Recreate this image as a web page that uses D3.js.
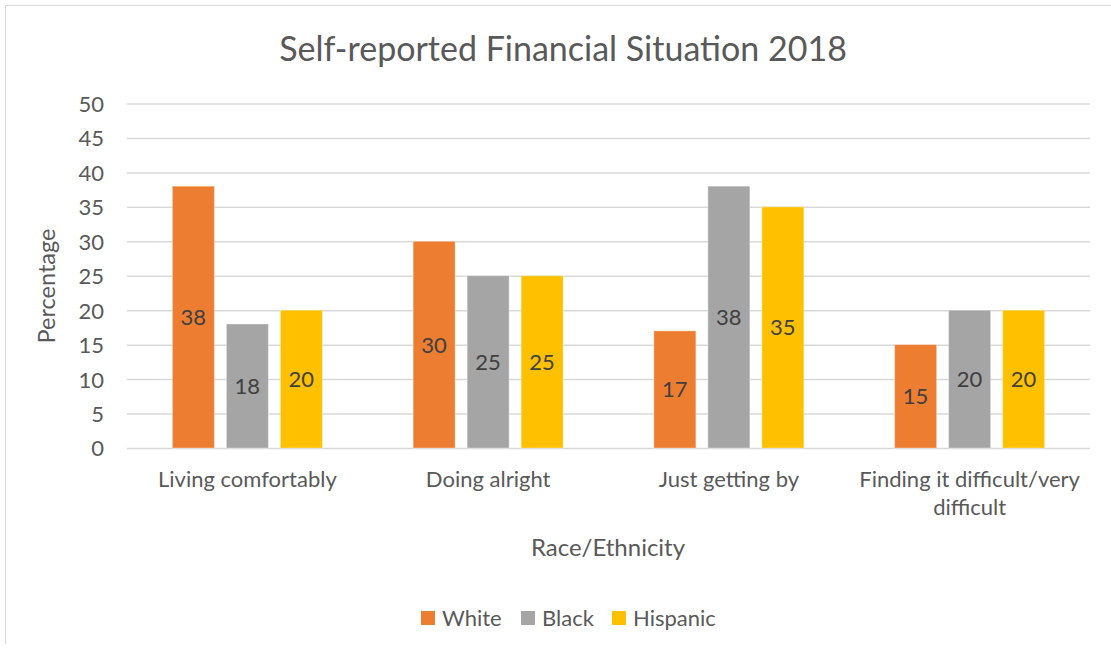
<!DOCTYPE html>
<html>
<head>
<meta charset="utf-8">
<script src="https://cdn.jsdelivr.net/npm/d3@7"></script>
<style>
  html, body { margin: 0; padding: 0; background: #fff; }
  svg { display: block; font-family: Lato, "Open Sans", sans-serif; }
</style>
</head>
<body>
<svg id="chart" width="1111" height="653"></svg>
<script>
// Survey categories and the percentage for each group
const categories = ["Living comfortably", "Doing alright", "Just getting by", "Finding it difficult/very difficult"];
const seriesNames = ["White", "Black", "Hispanic"];
const white = [38, 30, 17, 15];
const black = [18, 25, 38, 20];
const hispanic = [20, 25, 35, 20];
const yTicks = [0, 5, 10, 15, 20, 25, 30, 35, 40, 45, 50];
const colors = ["#ED7D31", "#A5A5A5", "#FFC000"];

const seriesValues = [white, black, hispanic];
const rows = categories.map((c, i) => ({
  category: c,
  values: seriesNames.map((s, j) => ({ series: s, value: seriesValues[j][i] }))
}));

const svg = d3.select("#chart");
const W = 1111, H = 653;
const textColor = "#595959";
const fs = 22;

// chart frame: top and left edges
svg.append("path")
  .attr("d", `M5.5,644 V5.5 H${W}`)
  .attr("fill", "none").attr("stroke", "#d9d9d9").attr("stroke-width", 1);

const plot = { left: 127, right: 1090, top: 103.5, bottom: 448 };

const x = d3.scaleBand().domain(categories).range([plot.left, plot.right]).padding(0);
const y = d3.scaleLinear().domain([0, 50]).range([plot.bottom, plot.top]);

const barW = 42, barGap = 12;
const xs = d3.scaleBand().domain(seriesNames)
  .range([-(barW * 1.5 + barGap), barW * 1.5 + barGap])
  .paddingInner(barGap / (barW + barGap));

// gridlines via axis
const grid = svg.append("g")
  .attr("transform", `translate(${plot.left},0)`)
  .call(d3.axisLeft(y).tickValues(yTicks).tickSize(-(plot.right - plot.left)).tickFormat(""));
grid.select(".domain").remove();
grid.selectAll("line").attr("stroke", "#d9d9d9").attr("stroke-width", 1.5);

// y tick labels
const yAxis = svg.append("g")
  .attr("transform", `translate(${plot.left - 23},0)`)
  .call(d3.axisLeft(y).tickValues(yTicks).tickSize(0).tickPadding(0));
yAxis.select(".domain").remove();
yAxis.selectAll("text")
  .attr("fill", textColor).attr("font-size", fs).attr("font-family", "Lato, sans-serif")
  .attr("dy", "0.36em");

// bars
const groups = svg.append("g").selectAll("g")
  .data(rows).join("g")
  .attr("transform", d => `translate(${x(d.category) + x.bandwidth() / 2},0)`);

groups.selectAll("rect")
  .data(d => d.values).join("rect")
  .attr("x", d => xs(d.series))
  .attr("width", xs.bandwidth())
  .attr("y", d => y(d.value))
  .attr("height", d => y(0) - y(d.value))
  .attr("fill", (d, i) => colors[i])
  .attr("stroke", "#fff").attr("stroke-opacity", 0.35).attr("stroke-width", 1);

// value labels centred inside each bar
groups.selectAll("text.val")
  .data(d => d.values).join("text")
  .attr("class", "val")
  .attr("x", d => xs(d.series) + xs.bandwidth() / 2)
  .attr("y", d => y(d.value / 2))
  .attr("dy", "0.36em")
  .attr("text-anchor", "middle")
  .attr("fill", "#404040").attr("font-size", fs)
  .text(d => d.value);

// category labels (wrapped)
const xAxis = svg.append("g")
  .attr("transform", `translate(0,${plot.bottom})`)
  .call(d3.axisBottom(x).tickSize(0).tickPadding(0));
xAxis.select(".domain").remove();
xAxis.selectAll("text").remove();
const catLabels = svg.append("g").selectAll("text")
  .data(categories).join("text")
  .attr("x", d => x(d) + x.bandwidth() / 2)
  .attr("y", 487)
  .attr("text-anchor", "middle")
  .attr("fill", textColor).attr("font-size", fs);
catLabels.each(function(d) {
  const t = d3.select(this);
  const lines = d === "Finding it difficult/very difficult"
    ? ["Finding it difficult/very", "difficult"] : [d];
  lines.forEach((ln, i) => t.append("tspan")
    .attr("x", x(d) + x.bandwidth() / 2)
    .attr("dy", i === 0 ? 0 : 28)
    .text(ln));
});

// title
svg.append("text")
  .attr("x", 563).attr("y", 61)
  .attr("text-anchor", "middle")
  .attr("fill", textColor).attr("font-size", 34)
  .text("Self-reported Financial Situation 2018");

// axis titles
svg.append("text")
  .attr("transform", "translate(55,286) rotate(-90)")
  .attr("text-anchor", "middle")
  .attr("fill", textColor).attr("font-size", 23.5)
  .text("Percentage");

svg.append("text")
  .attr("x", 608).attr("y", 556)
  .attr("text-anchor", "middle")
  .attr("fill", textColor).attr("font-size", 24)
  .text("Race/Ethnicity");

// legend
const legendX = [421, 521, 612];
const legend = svg.append("g").selectAll("g")
  .data(seriesNames).join("g")
  .attr("transform", (d, i) => `translate(${legendX[i]},611)`);
legend.append("rect").attr("width", 14).attr("height", 14).attr("fill", (d, i) => colors[i]);
legend.append("text")
  .attr("x", 21).attr("y", 7).attr("dy", "0.36em")
  .attr("fill", textColor).attr("font-size", fs)
  .text(d => d);
</script>
</body>
</html>
